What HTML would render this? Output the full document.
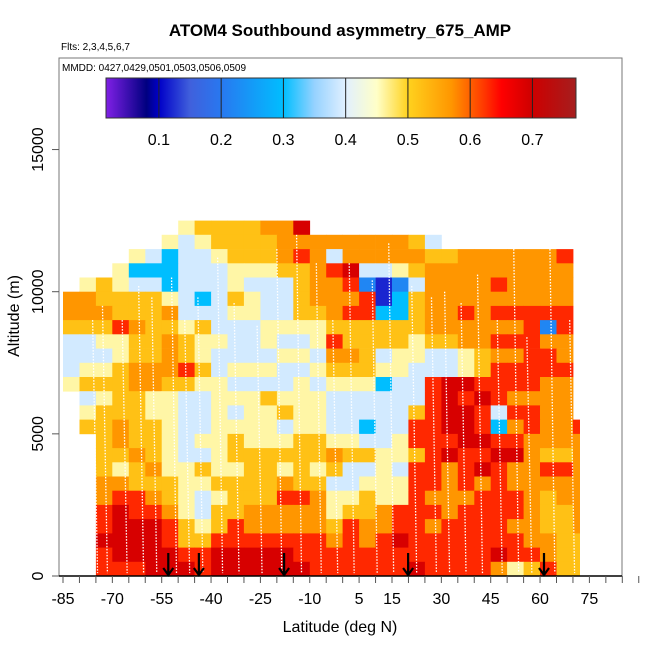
<!DOCTYPE html>
<html><head><meta charset="utf-8"><style>
body{margin:0;background:#fff;}
svg text{font-family:"Liberation Sans",sans-serif;}
</style></head><body>
<svg id="chart" width="650" height="650" xmlns="http://www.w3.org/2000/svg">
<rect width="650" height="650" fill="#fff"/>
<text x="340" y="36" font-size="17" font-weight="bold" text-anchor="middle">ATOM4 Southbound asymmetry_675_AMP</text>
<text x="61" y="50" font-size="10">Flts: 2,3,4,5,6,7</text>
<g id="cells"></g>
<g id="paths"></g>
<rect x="59" y="58" width="563" height="518" fill="none" stroke="#777" stroke-width="1"/>
<text x="62" y="71" font-size="10">MMDD: 0427,0429,0501,0503,0506,0509</text>
<g id="cbar"></g>
<g id="axes"></g>
<g id="arrows"></g>
<text x="340" y="632" font-size="16" text-anchor="middle">Latitude (deg N)</text>
<text transform="translate(19,316) rotate(-90)" font-size="16" text-anchor="middle">Altitude (m)</text>
</svg>
<script>
// data
const latBins = [-85,-80,-75,-70,-65,-60,-55,-50,-45,-40,-35,-30,-25,-20,-15,-10,-5,0,5,10,15,20,25,30,35,40,45,50,55,60,65,70];
const codeValues = [null,0.12,0.22,0.3,0.39,0.46,0.52,0.57,0.63,0.69];
const rowsTopDown = [
".......56666779.................",
"......54566667777777764.........",
"....543445666787477777667777778.",
"...5333444555667894456777777777.",
".565443444544467782124777787777.",
"7766665434654467778136777777777.",
"7776667444554466788336778788888.",
"6668766564445555666666777777828.",
"4455667655445445866665667788877.",
"4445667654444554776455445677887.",
"4556777864555445666554445688888.",
"5666776655444454555344899888877.",
".4566554455565554444448989877 7.".replace(" ","7").slice(0,31)+".",
".566655445455655444446899848877.",
".66766544555545544344889983787788".slice(0,32),
"..676654556555665544588899887777",
"..667654456666667665568988997667".slice(0,32),
"..656755655665656445488789877887",
"..776665566667664455588787877777",
"..788765456668875565587778887677",
"..898875466777775667888788887667",
"..899986568777776877887888877667",
"..999986688888887878988888887766",
"..899998899999888888888888988766",
"..888999899999988888898888756866"
];
const altTicks = [0,5000,10000,15000];
const latTickLabels = [-85,-70,-55,-40,-25,-10,5,15,30,45,60,75];
const cbarTicks = [0.1,0.2,0.3,0.4,0.5,0.6,0.7];
const arrowLats = [-53,-43.7,-17.8,19.9,61.2];
const pathLats = [-76,-73,-67,-62,-58,-52,-48,-44,-38,-33,-26,-20,-14,-8,-3,2,9,14,21,27,31,36,41,47,52,56,63,69];
const pathTops = [9000,9500,9000,10200,9800,10500,9000,9800,11200,9600,8800,11500,12000,11000,9000,11000,10400,11700,10200,9800,10000,9600,10600,9000,11500,8400,11500,9000];
const dataEdgeLat = 72;

const NS="http://www.w3.org/2000/svg";
const xS = lat => 63 + (lat + 85) * 3.29;
const yS = alt => 576 - alt * 0.02843;
const cx = v => 106 + (v - 0.015) * (470 / 0.755);
const stops = [[0.015,[128,32,230]],[0.08,[0,0,128]],[0.1,[0,0,200]],[0.15,[64,96,220]],[0.2,[40,120,240]],[0.3,[0,190,255]],[0.35,[150,210,255]],[0.4,[225,240,255]],[0.45,[255,255,200]],[0.5,[255,210,30]],[0.57,[255,150,0]],[0.62,[255,60,0]],[0.65,[255,0,0]],[0.7,[205,0,0]],[0.77,[165,30,30]]];
function col(v){
  if(v<=stops[0][0]) return `rgb(${stops[0][1]})`;
  for(let i=1;i<stops.length;i++){
    if(v<=stops[i][0]){
      const [a,ca]=stops[i-1],[b,cb]=stops[i];const t=(v-a)/(b-a);
      return `rgb(${ca.map((c,j)=>Math.round(c+(cb[j]-c)*t)).join(",")})`;
    }
  }
  return `rgb(${stops[stops.length-1][1]})`;
}
function mk(tag,attrs,parent){const e=document.createElementNS(NS,tag);for(const k in attrs)e.setAttribute(k,attrs[k]);parent.appendChild(e);return e;}

const cells=document.getElementById("cells");
const nRows=rowsTopDown.length;
rowsTopDown.forEach((row,ri)=>{
  const k=nRows-1-ri;
  for(let i=0;i<latBins.length;i++){
    const ch=row[i];
    if(!ch||ch==="."||ch===" ")continue;
    const v=codeValues[+ch];
    const x0=xS(latBins[i]),x1=xS(Math.min(latBins[i]+5,dataEdgeLat));
    const y0=yS((k+1)*500),y1=yS(k*500);
    const r=mk("rect",{x:x0.toFixed(1),y:y0.toFixed(1),width:(x1-x0+0.4).toFixed(1),height:(y1-y0+0.4).toFixed(1),fill:col(v)},cells);
    
    
  }
});

const paths=document.getElementById("paths");
pathLats.forEach((lat,i)=>{
  const l=mk("line",{x1:xS(lat),x2:xS(lat+1.5),y1:yS(pathTops[i]),y2:yS(100),stroke:"#fff","stroke-width":1.3,"stroke-dasharray":"1.5 1.5"},paths);
  
  
});

const cb=document.getElementById("cbar");
const g=mk("linearGradient",{id:"cg",x1:"0",x2:"1",y1:"0",y2:"0"},mk("defs",{},cb));
stops.forEach(s=>mk("stop",{offset:((s[0]-0.015)/0.755).toFixed(4),"stop-color":col(s[0])},g));
const cr=mk("rect",{x:106,y:78,width:470,height:40,fill:"url(#cg)",stroke:"#333","stroke-width":1},cb);


cbarTicks.forEach(v=>{
  const tl=mk("line",{x1:cx(v),x2:cx(v),y1:78,y2:118,stroke:"#222","stroke-width":1},cb);
  
  
  const t=mk("text",{x:cx(v),y:145,"font-size":16,"text-anchor":"middle"},cb);t.textContent=v.toFixed(1);
  
  
});

const ax=document.getElementById("axes");
mk("line",{x1:59,x2:622,y1:576,y2:576,stroke:"#000","stroke-width":1.5},ax);
for(let lat=-85;lat<=90;lat+=5){
  const tk=mk("line",{x1:xS(lat),x2:xS(lat),y1:576,y2:583,stroke:"#555"},ax);
  
  
}
latTickLabels.forEach(lat=>{
  const t=mk("text",{x:xS(lat),y:604,"font-size":16,"text-anchor":"middle"},ax);t.textContent=lat;
  
  
});
altTicks.forEach(a=>{
  const tk=mk("line",{x1:52,x2:59,y1:yS(a),y2:yS(a),stroke:"#555"},ax);
  
  
  const t=mk("text",{transform:`translate(43,${yS(a)}) rotate(-90)`,"font-size":16,"text-anchor":"middle"},ax);t.textContent=a;
  
  
});

const ar=document.getElementById("arrows");
arrowLats.forEach(lat=>{
  const x=xS(lat);
  const a=mk("path",{d:`M${x},553 L${x},575 M${x-5},568 L${x},575 L${x+5},568`,stroke:"#000","stroke-width":2.2,fill:"none"},ar);
  
  
});
</script>
</body></html>
